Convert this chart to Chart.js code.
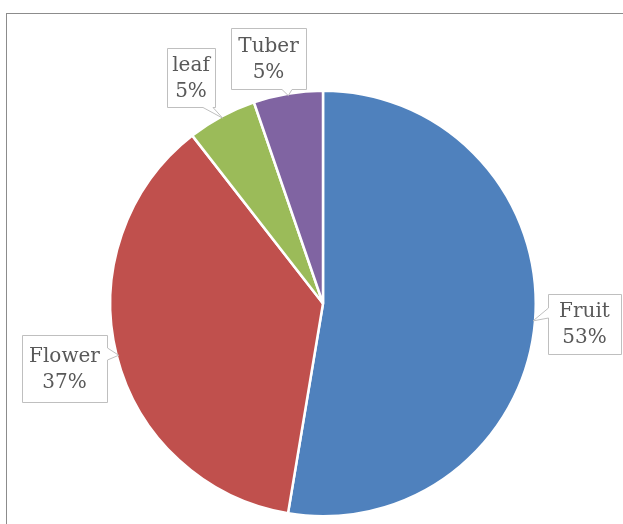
<!DOCTYPE html>
<html>
<head>
<meta charset="utf-8">
<script src="https://cdn.jsdelivr.net/npm/chart.js@4"></script>
<style>
  html, body { margin: 0; padding: 0; background: #fff; }
  body { width: 623px; height: 524px; position: relative; overflow: hidden; }
  #frame { position: absolute; left: 6px; top: 13px; width: 700px; height: 600px;
           border: 1px solid #8c8c8c; box-sizing: border-box; }
  #pie { position: absolute; left: 0; top: 0; }
</style>
</head>
<body>
<div id="frame"></div>
<canvas id="pie" width="623" height="524"></canvas>
<script>
/* parts of the plant used — number of species */
const partLabels = ['Fruit', 'Flower', 'leaf', 'Tuber'];
const partCounts = [10, 7, 1, 1];
const partColors = ['#4f81bd', '#c0504d', '#9bbb59', '#8064a2'];

// callout boxes: x, y, w, h, which side the pointer leaves from, and the notch span on that side
const calloutBoxes = [
  { x: 548, y: 294, w: 73, h: 60, side: 'left',   n0: 308, n1: 318 },
  { x: 22,  y: 335, w: 85, h: 67, side: 'right',  n0: 348, n1: 360 },
  { x: 167, y: 48,  w: 48, h: 59, side: 'bottom', n0: 203, n1: 213 },
  { x: 231, y: 28,  w: 75, h: 61, side: 'bottom', n0: 282, n1: 292 },
];

const calloutPlugin = {
  id: 'callouts',
  afterDatasetsDraw(chart) {
    const ctx = chart.ctx;
    const arcs = chart.getDatasetMeta(0).data;
    const total = partCounts.reduce((a, b) => a + b, 0);
    arcs.forEach((arc, i) => {
      const b = calloutBoxes[i];
      const p = arc.getProps(['x', 'y', 'startAngle', 'endAngle', 'outerRadius'], true);
      const mid = (p.startAngle + p.endAngle) / 2;
      const tx = p.x + Math.cos(mid) * (p.outerRadius - 2);
      const ty = p.y + Math.sin(mid) * (p.outerRadius - 2);

      const L = b.x + 0.5, T = b.y + 0.5, R = b.x + b.w + 0.5, B = b.y + b.h + 0.5;
      ctx.save();
      ctx.beginPath();
      ctx.moveTo(L, T);
      ctx.lineTo(R, T);
      if (b.side === 'right') {
        ctx.lineTo(R, b.n0); ctx.lineTo(tx, ty); ctx.lineTo(R, b.n1);
      }
      ctx.lineTo(R, B);
      if (b.side === 'bottom') {
        ctx.lineTo(b.n1, B); ctx.lineTo(tx, ty); ctx.lineTo(b.n0, B);
      }
      ctx.lineTo(L, B);
      if (b.side === 'left') {
        ctx.lineTo(L, b.n1); ctx.lineTo(tx, ty); ctx.lineTo(L, b.n0);
      }
      ctx.closePath();
      ctx.fillStyle = '#ffffff';
      ctx.fill();
      ctx.strokeStyle = '#bfbfbf';
      ctx.lineWidth = 1;
      ctx.stroke();

      const pct = Math.round(partCounts[i] / total * 100) + '%';
      const cx = b.x + b.w / 2, cy = b.y + b.h / 2;
      ctx.fillStyle = '#595959';
      ctx.font = '20px "DejaVu Serif"';
      ctx.textAlign = 'center';
      ctx.textBaseline = 'middle';
      ctx.fillText(partLabels[i], cx, cy - 12);
      ctx.fillText(pct, cx, cy + 14);
      ctx.restore();
    });
  }
};

new Chart(document.getElementById('pie'), {
  type: 'pie',
  data: {
    labels: partLabels,
    datasets: [{
      data: partCounts,
      backgroundColor: partColors,
      borderColor: '#ffffff',
      borderWidth: 2.5,
    }]
  },
  options: {
    responsive: false,
    animation: false,
    layout: { padding: { left: 109, right: 86, top: 89, bottom: 6 } },
    plugins: {
      legend: { display: false },
      tooltip: { enabled: false }
    }
  },
  plugins: [calloutPlugin]
});
</script>
</body>
</html>
